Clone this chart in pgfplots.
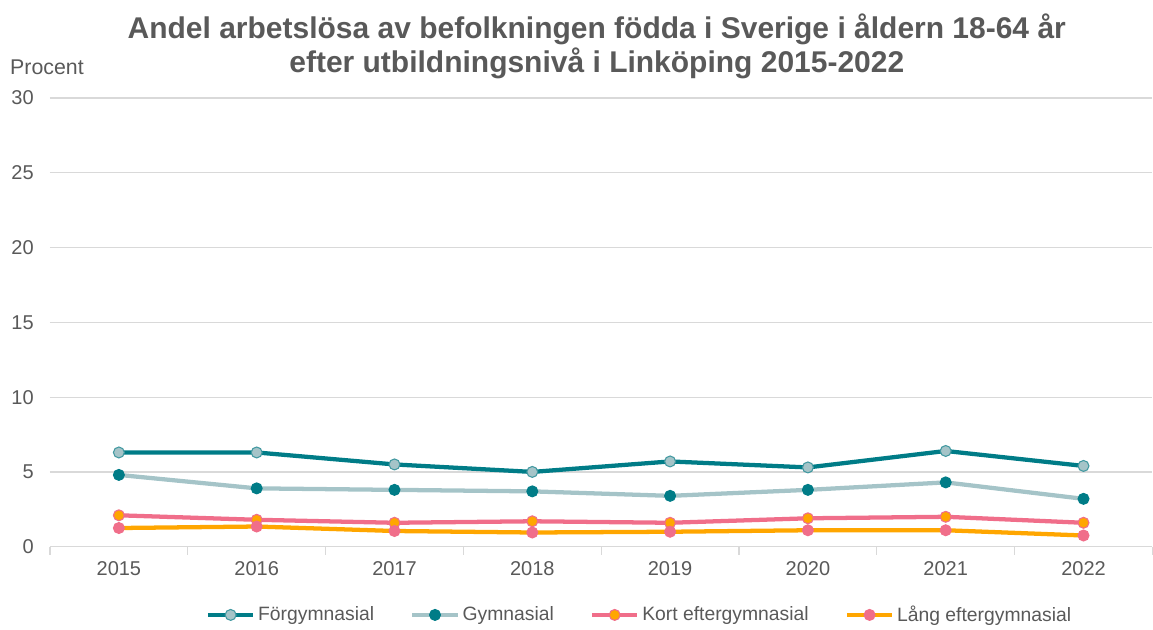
\documentclass[border=0pt]{standalone}
\usepackage{pgfplots}
\pgfplotsset{compat=1.18}
\usepackage{fontspec}
\setmainfont{Liberation Sans}
\definecolor{cteal}{HTML}{007C87}
\definecolor{clight}{HTML}{A5C4C8}
\definecolor{cpink}{HTML}{F06E8A}
\definecolor{corange}{HTML}{FFA600}
\definecolor{ctext}{HTML}{595959}
\definecolor{cgrid}{HTML}{D9D9D9}
\begin{document}
\begin{tikzpicture}
\begin{axis}[
  name=ax,
  at={(0,0)}, anchor=south west,
  scale only axis,
  width=827.25pt, height=336.75pt,
  xmin=-0.5, xmax=7.5, ymin=0, ymax=30,
  xtick={0,...,7},
  xticklabels={2015,2016,2017,2018,2019,2020,2021,2022},
  minor xtick={-0.5,0.5,...,7.5},
  ytick={0,5,...,30},
  ymajorgrids, grid style={cgrid, line width=0.9pt},
  axis x line*=bottom, axis y line*=left,
  y axis line style={draw=none},
  x axis line style={cgrid, line width=0.9pt},
  tick align=outside,
  major tick length=0pt, minor tick length=6pt,
  minor tick style={cgrid, line width=0.9pt},
  tick style={cgrid},
  /pgf/number format/assume math mode=true,
  ticklabel style={font=\fontsize{15}{18}\selectfont, text=ctext},
  yticklabel style={anchor=east, inner sep=0pt, xshift=-12pt},
  xticklabel style={anchor=north, inner sep=0pt, yshift=-11pt},
  clip=false,
  legend columns=4,
  legend style={draw=none, fill=none, at={(0.535,-0.152)}, anchor=center,
    font=\fontsize{14.5}{17}\selectfont, text=ctext,
    /tikz/every even column/.append style={column sep=25pt}},
  legend cell align=left,
  legend image code/.code={\draw[mark repeat=2,mark phase=2] plot coordinates {(0cm,0cm)(0.6cm,0cm)(1.2cm,0cm)};},
]
\addplot[cteal, line width=3.2pt, mark=*, mark options={fill=clight, draw=cteal!60!clight, line width=0.8pt}, mark size=4.1pt]
  coordinates {(0,6.3)(1,6.3)(2,5.5)(3,5.0)(4,5.7)(5,5.3)(6,6.4)(7,5.4)};
\addlegendentry{Förgymnasial}
\addplot[clight, line width=3.2pt, mark=*, mark options={fill=cteal, draw=cteal, line width=0.8pt}, mark size=4.1pt]
  coordinates {(0,4.8)(1,3.9)(2,3.8)(3,3.7)(4,3.4)(5,3.8)(6,4.3)(7,3.2)};
\addlegendentry{Gymnasial}
\addplot[cpink, line width=3.2pt, mark=*, mark options={fill=corange, draw=cpink, line width=0.8pt}, mark size=4.1pt]
  coordinates {(0,2.1)(1,1.8)(2,1.6)(3,1.7)(4,1.6)(5,1.9)(6,2.0)(7,1.6)};
\addlegendentry{Kort eftergymnasial}
\addplot[corange, line width=3.2pt, mark=*, mark options={fill=cpink, draw=cpink, line width=0.8pt}, mark size=4.1pt]
  coordinates {(0,1.25)(1,1.35)(2,1.05)(3,0.95)(4,1.0)(5,1.1)(6,1.1)(7,0.75)};
\addlegendentry{Lång eftergymnasial}
\node[anchor=center, align=center, text=ctext, font=\bfseries\fontsize{22.5}{26}\selectfont]
  at (axis description cs:0.496,1.115) {Andel arbetslösa av befolkningen födda i Sverige i åldern 18-64 år\\efter utbildningsnivå i Linköping 2015-2022};
\node[anchor=west, inner sep=0pt, text=ctext, font=\fontsize{16}{19}\selectfont]
  at (axis description cs:-0.0363,1.069) {Procent};
\end{axis}
\path[use as bounding box] (-37.5pt,-60.75pt) rectangle (827.25pt,410.25pt);
\end{tikzpicture}
\end{document}
